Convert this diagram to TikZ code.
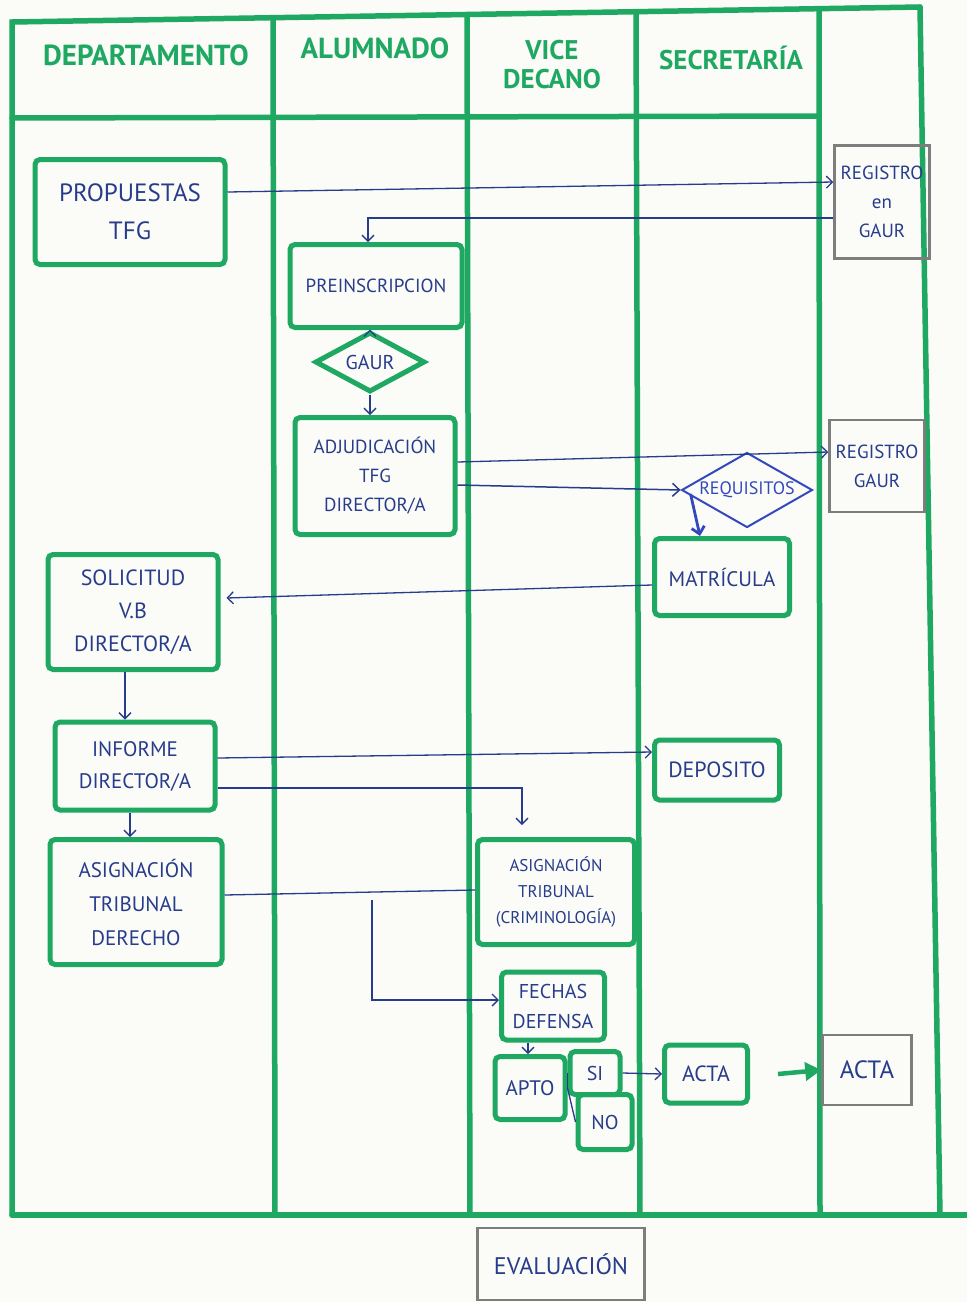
\documentclass[tikz,border=0pt]{standalone}
\usepackage{fontspec}
\setmainfont{PT Sans}
\usetikzlibrary{shapes.geometric,arrows.meta}
\definecolor{lane}{RGB}{30,168,98}
\definecolor{ink}{RGB}{40,60,140}
\definecolor{brightink}{RGB}{52,72,190}
\definecolor{pencil}{RGB}{125,125,125}
\definecolor{paper}{RGB}{251,251,247}
\newcommand{\fs}[1]{\fontsize{#1}{\numexpr #1*3/2\relax}\selectfont}
\begin{document}
\begin{tikzpicture}[x=1pt,y=-1pt,
  laneline/.style={draw=lane,line width=5.5pt,line cap=round},
  head/.style={text=lane,font=\bfseries\fontsize{29}{30}\selectfont,align=center,inner sep=0pt},
  gbox/.style={draw=lane,line width=5pt,rounded corners=5pt,inner sep=1pt,text=ink,align=center},
  pbox/.style={draw=pencil,line width=2.5pt,inner sep=1pt,text=ink,align=center},
  gdia/.style={shape=diamond,draw=lane,line width=5pt,inner sep=0pt,text=ink,aspect=1.8},
  flow/.style={draw=ink,line width=1.3pt,-{Straight Barb[length=6pt,width=12pt]}},
  link/.style={draw=ink,line width=1.3pt},
  boldflow/.style={draw=brightink,line width=2.8pt,-{Straight Barb[length=7pt,width=13pt]}}
]
\fill[paper] (0,0) rectangle (967,1302);
\useasboundingbox (0,0) rectangle (967,1302);

% swimlane frame
\draw[laneline] (12,1215) -- (12,22) -- (920,7);
\draw[laneline] (920,7) -- (940,1215);
\draw[laneline] (12,1215) -- (967,1215);
\draw[laneline] (12,118) -- (818,116);
\draw[laneline] (273,18) -- (275,1215);
\draw[laneline] (467,15) -- (470,1215);
\draw[laneline] (636,12) -- (640,1215);
\draw[laneline] (819,10) -- (820,1215);

% lane titles
\node[head] (hdep) at (146,55) {DEPARTAMENTO};
\node[head] (halu) at (375,48) {ALUMNADO};
\node[head,font=\bfseries\fontsize{27}{29}\selectfont] (hvic) at (552,65) {VICE\\DECANO};
\node[head,font=\bfseries\fontsize{27}{29}\selectfont] (hsec) at (731,58) {SECRETARÍA};

% process boxes
\node[gbox,minimum width=190,minimum height=105,font=\fs{25}] (prop) at (130,212) {PROPUESTAS\\TFG};
\node[pbox,minimum width=95,minimum height=113,font=\fs{19}] (reg1) at (882,202) {REGISTRO\\en\\GAUR};
\node[gbox,minimum width=172,minimum height=83,font=\fs{19}] (pre) at (376,286) {PREINSCRIPCION};
\node[gdia,minimum width=110,minimum height=60,font=\fs{20}] (gaur) at (370,362) {GAUR};
\node[gbox,minimum width=160,minimum height=117,font=\fs{19}] (adj) at (375,476) {ADJUDICACIÓN\\TFG\\DIRECTOR/A};
\node[pbox,minimum width=95,minimum height=92,font=\fs{19}] (reg2) at (877,466) {REGISTRO\\GAUR};
\node[shape=diamond,draw=brightink,line width=2pt,inner sep=0pt,aspect=2.2,text=brightink,
      minimum width=130,minimum height=75,font=\fs{18}] (req) at (747,490) {REQUISITOS};
\node[gbox,minimum width=135,minimum height=77,font=\fs{21}] (mat) at (722,577) {MATRÍCULA};
\node[gbox,minimum width=170,minimum height=115,font=\fs{22}] (sol) at (133,612) {SOLICITUD\\V.B\\DIRECTOR/A};
\node[gbox,minimum width=160,minimum height=88,font=\fs{21}] (inf) at (135,766) {INFORME\\DIRECTOR/A};
\node[gbox,minimum width=125,minimum height=60,font=\fs{22}] (dep) at (717,770) {DEPOSITO};
\node[gbox,minimum width=172,minimum height=125,font=\fontsize{21}{34}\selectfont] (asd) at (136,902) {ASIGNACIÓN\\TRIBUNAL\\DERECHO};
\node[gbox,minimum width=157,minimum height=105,font=\fs{17}] (asc) at (556,892) {ASIGNACIÓN\\TRIBUNAL\\(CRIMINOLOGÍA)};
\node[gbox,minimum width=103,minimum height=68,font=\fs{20}] (fec) at (553,1006) {FECHAS\\DEFENSA};
\node[gbox,minimum width=70,minimum height=63,font=\fs{21}] (apto) at (530,1088) {APTO};
\node[gbox,minimum width=50,minimum height=43,font=\fs{20}] (si) at (595,1073) {SI};
\node[gbox,minimum width=54,minimum height=55,font=\fs{20}] (no) at (605,1122) {NO};
\node[gbox,minimum width=83,minimum height=58,font=\fs{22}] (acta) at (706,1074) {ACTA};
\node[pbox,minimum width=89,minimum height=70,font=\fs{25}] (acta2) at (867,1070) {ACTA};
\node[pbox,minimum width=167,minimum height=72,font=\fs{24}] (eva) at (561,1264) {EVALUACIÓN};

% connectors
\draw[flow] ([yshift=20pt]prop.east) -- ([yshift=20pt]reg1.west);
\draw[flow] ([yshift=-16pt]reg1.west) -| ([xshift=-8pt]pre.north);
\draw[flow] (pre.south -| gaur.north) -- (gaur.north);
\draw[flow] (gaur.south) -- (gaur.south |- adj.north);
\draw[flow] ([yshift=14pt]adj.east) -- ([yshift=14pt]reg2.west);
\draw[boldflow,draw=ink,line width=1.5pt] ([yshift=-9pt]adj.east) -- (req.west);
\draw[boldflow] ([xshift=10pt,yshift=-4pt]req.west) -- ([xshift=-22pt]mat.north);
\draw[flow] ([yshift=-8pt]mat.west) -- ([yshift=14pt,xshift=6pt]sol.east);
\draw[flow] ([xshift=-8pt]sol.south) -- ([xshift=-8pt]sol.south |- inf.north);
\draw[flow] ([yshift=8pt]inf.east) -- ([yshift=18pt]dep.west);
\draw[flow,shorten >=12pt] ([yshift=-22pt]inf.east) -| ([xshift=-34pt]asc.north);
\draw[flow] ([xshift=-5pt]inf.south) -- ([xshift=-5pt]inf.south |- asd.north);
\draw[link] ([yshift=7pt]asd.east) -- ([yshift=2pt]asc.west);
\coordinate (br) at (372,900);
\draw[flow] (br) |- ([yshift=6pt]fec.west);
\draw[flow] ([xshift=-25pt]fec.south) -- ([xshift=-25pt]fec.south |- apto.north);
\draw[link] (apto.east) -- (si.west);
\draw[link] (apto.east) -- (no.west);
\draw[flow] (si.east) -- (acta.west);
\draw[draw=lane,line width=4.5pt,-{Triangle[length=16pt,width=18pt]}] ([xshift=28pt]acta.east) -- (acta2.west);
\end{tikzpicture}
\end{document}
